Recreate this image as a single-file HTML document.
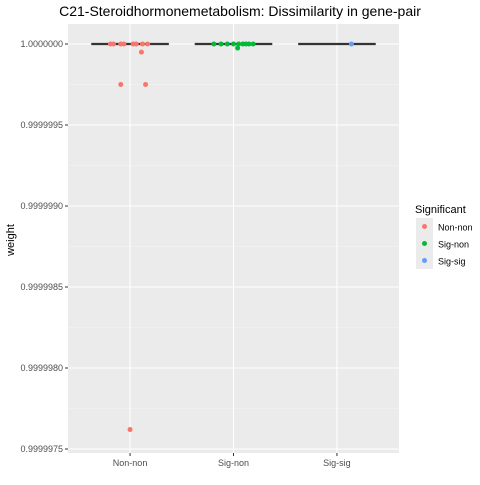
<!DOCTYPE html>
<html><head><meta charset="utf-8"><style>
body{margin:0;background:#fff}
text{font-family:"Liberation Sans",Arial,sans-serif}
</style></head><body>
<svg id="c" width="480" height="480" xmlns="http://www.w3.org/2000/svg">
<text x="240" y="16" text-anchor="middle" font-size="14" fill="#000">C21-Steroidhormonemetabolism: Dissimilarity in gene-pair</text>
<rect x="68" y="24" width="331" height="429" fill="#ebebeb"/>
<g id="grid"></g><g id="marks"></g><g id="axes"></g>
<text transform="translate(14,240) rotate(-90)" text-anchor="middle" font-size="11">weight</text>
<g>
<text x="415" y="213" font-size="11">Significant</text>
<rect x="416" y="218" width="17" height="17" fill="#ebebeb"/>
<circle cx="424.5" cy="226.5" r="2.5" fill="#F8766D"/>
<text x="438" y="230.5" font-size="9">Non-non</text>
<rect x="416" y="235" width="17" height="17" fill="#ebebeb"/>
<circle cx="424.5" cy="243.5" r="2.5" fill="#00BA38"/>
<text x="438" y="247.5" font-size="9">Sig-non</text>
<rect x="416" y="252" width="17" height="17" fill="#ebebeb"/>
<circle cx="424.5" cy="260.5" r="2.5" fill="#619CFF"/>
<text x="438" y="264.5" font-size="9">Sig-sig</text>
</g>
</svg>
<script>
const categories=["Non-non","Sig-non","Sig-sig"];
const colors=["#F8766D","#00BA38","#619CFF"];
const medians=[1,1,1];
const yTicks=[1.0,0.9999995,0.999999,0.9999985,0.999998,0.9999975];
const yTickLabels=["1.0000000","0.9999995","0.9999990","0.9999985","0.9999980","0.9999975"];
const nonnonX=[-0.19,-0.16,-0.09,-0.06,0.03,0.06,0.12,0.17,0.11,-0.09,0.15,0.0];
const nonnonY=[1,1,1,1,1,1,1,1,0.99999995,0.99999975,0.99999975,0.99999762];
const signonX=[-0.19,-0.12,-0.06,0.0,0.05,0.09,0.12,0.15,0.19,0.04];
const signonY=[1,1,1,1,1,1,1,1,1,0.999999975];
const sigsigX=[0.14];
const sigsigY=[1];
const NS="http://www.w3.org/2000/svg";
const L=68,R=399;
function xs(i){return L+(R-L)*(i+0.6)/3.2;}
const bw=(R-L)*0.75/3.2;
function ys(v){return 44+(1-v)/5e-7*81;}
function mk(t,a,p){const e=document.createElementNS(NS,t);for(const k in a)e.setAttribute(k,a[k]);document.getElementById(p).appendChild(e);return e;}
for(let i=0;i<yTicks.length-1;i++){
 const g=mk('line',{x1:L,x2:R,y1:ys((yTicks[i]+yTicks[i+1])/2),y2:ys((yTicks[i]+yTicks[i+1])/2),stroke:'#f5f5f5','stroke-width':0.6},'grid');
 
 
}
yTicks.forEach((v,i)=>{
 const g=mk('line',{x1:L,x2:R,y1:ys(v),y2:ys(v),stroke:'#fff','stroke-width':1.1},'grid');
 
 
 mk('line',{x1:L-3,x2:L,y1:ys(v),y2:ys(v),stroke:'#333'},'axes');
 const t=mk('text',{x:L-5,y:ys(v)+3,'text-anchor':'end','font-size':9,fill:'#4d4d4d'},'axes');
 t.textContent=yTickLabels[i];
 
 
});
categories.forEach((c,i)=>{
 const g=mk('line',{x1:xs(i),x2:xs(i),y1:24,y2:453,stroke:'#fff','stroke-width':1.1},'grid');
 
 
 mk('line',{x1:xs(i),x2:xs(i),y1:453,y2:456,stroke:'#333'},'axes');
 const t=mk('text',{x:xs(i),y:466,'text-anchor':'middle','font-size':9,fill:'#4d4d4d'},'axes');
 t.textContent=c;
 
 
 const b=mk('line',{x1:xs(i)-bw/2,x2:xs(i)+bw/2,y1:ys(medians[i]),y2:ys(medians[i]),stroke:'#333','stroke-width':2.2},'marks');
 
 
});
[[nonnonX,nonnonY],[signonX,signonY],[sigsigX,sigsigY]].forEach((s,i)=>{
 s[0].forEach((dx,j)=>{
  const p=mk('circle',{cx:xs(i+dx),cy:ys(s[1][j]),r:2.5,fill:colors[i]},'marks');
  
  
 });
});
</script>
</body></html>
